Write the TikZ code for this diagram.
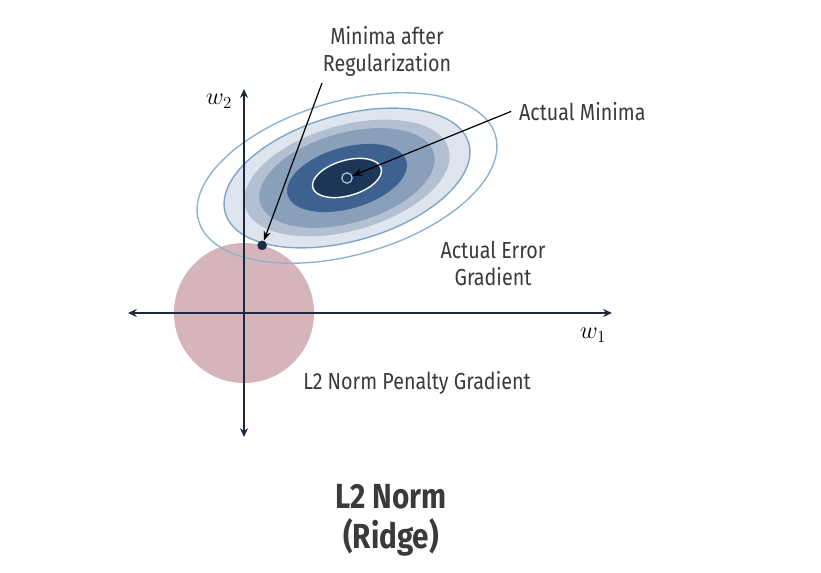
\documentclass[tikz,border=0pt]{standalone}
\usepackage{fontspec}
\setmainfont[FakeStretch=0.85]{Fira Sans}
\usetikzlibrary{arrows.meta}

\definecolor{axiscol}{HTML}{1C2741}
\definecolor{textcol}{HTML}{3A3A3A}
\definecolor{penalty}{HTML}{D5B5B9}
\definecolor{ringline}{HTML}{8DB3CF}
\definecolor{ringA}{HTML}{DFE5EE}
\definecolor{ringAline}{HTML}{7FA6C6}
\definecolor{ringB}{HTML}{B2C0D2}
\definecolor{ringC}{HTML}{8A9FBA}
\definecolor{ringD}{HTML}{3D6290}
\definecolor{ringE}{HTML}{1D3557}

\begin{document}
\begin{tikzpicture}[
    axis/.style={line width=0.05cm, color=axiscol, {Stealth[length=0.22cm,width=0.2cm]}-{Stealth[length=0.22cm,width=0.2cm]}},
    lbl/.style={text=textcol, font=\fontsize{16.5}{19.2}\selectfont, inner sep=2pt},
    pointer/.style={line width=0.03cm, -{Stealth[length=0.24cm,width=0.18cm]}}
  ]
  \useasboundingbox (-6.1,-6.5) rectangle (14.425,7.825);
  % penalty region
  \fill[penalty] (0,0) circle (1.75);
  % error contours
  \begin{scope}[shift={(2.575,3.375)},rotate=16]
    \draw[ringline, line width=0.035cm] (0,0) ellipse (3.86 and 1.92);
    \draw[fill=ringA, draw=ringAline, line width=0.035cm] (0,0) ellipse ({3.86*0.82} and {1.92*0.82});
    \foreach \s/\c in {0.685/ringB, 0.585/ringC, 0.40/ringD}
      \fill[\c] (0,0) ellipse ({3.86*\s} and {1.92*\s});
    \draw[fill=ringE, draw=white!85!ringA, line width=0.035cm] (0,0) ellipse ({3.86*0.23} and {1.92*0.23});
  \end{scope}
  % axes
  \draw[axis] (0,-3.1) -- (0,5.6);
  \draw[axis] (-2.9,0) -- (9.2,0);
  \node at (8.725,-0.55) {\fontsize{16.5}{19}\selectfont $w_1$};
  \node at (-0.625,5.3) {\fontsize{16.5}{19}\selectfont $w_2$};
  % minima
  \node[circle, fill=ringE, draw=ringAline!60!white, line width=0.03cm, inner sep=0, minimum size=0.26cm] (actmin) at (2.575,3.375) {};
  \node[circle, fill=axiscol!90!ringD, inner sep=0, minimum size=0.24cm] (regmin) at (75:1.75) {};
  % labels
  \node[lbl, anchor=west] (actlbl) at (6.8,5.04) {Actual Minima};
  \node[lbl, align=center] (reglbl) at (3.575,6.55) {Minima after\\Regularization};
  \coordinate (regtail) at (1.95,5.75);
  \node[lbl, align=center] (errlbl) at (6.225,1.25) {Actual Error\\Gradient};
  \node[lbl] (penlbl) at (4.325,-1.75) {L2 Norm Penalty Gradient};
  \draw[pointer] ([xshift=-0.12cm]actlbl.west) -- (actmin);
  \draw[pointer] (regtail) -- (regmin);
  % title
  \node[text=textcol, font=\bfseries\fontsize{24.8}{28.5}\selectfont, align=center] (title) at (3.675,-5.175) {L2 Norm\\(Ridge)};
\end{tikzpicture}
\end{document}
